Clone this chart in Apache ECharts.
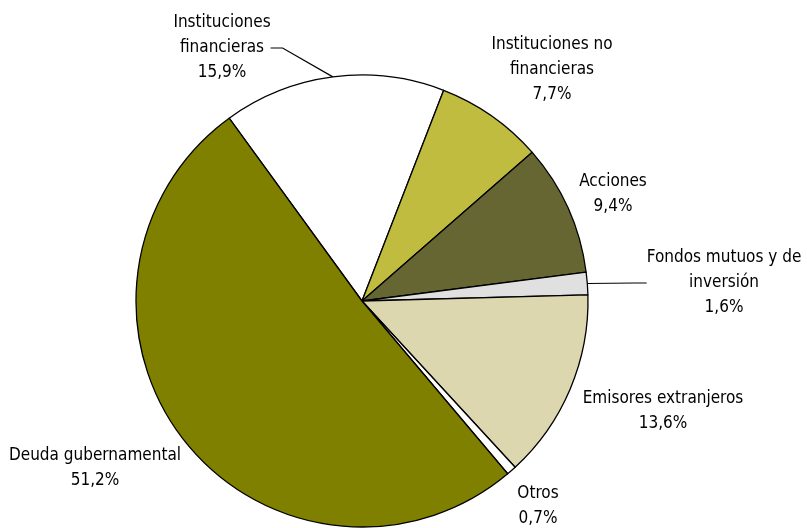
<!DOCTYPE html>
<html><head><meta charset="utf-8">
<script src="https://cdn.jsdelivr.net/npm/echarts@6/dist/echarts.min.js"></script>
<style>html,body{margin:0;padding:0;background:#fff}#c{width:807px;height:528px}</style>
</head><body><div id="c"></div>
<script>
const categories = ['Instituciones\nfinancieras', 'Instituciones no\nfinancieras', 'Acciones', 'Fondos mutuos y de\ninversión', 'Emisores extranjeros', 'Otros', 'Deuda gubernamental'];
const values = [15.9, 7.7, 9.4, 1.6, 13.6, 0.7, 51.2];
const colors = ['#ffffff', '#bfbc40', '#666633', '#e0e0e0', '#dcd7ae', '#ffffff', '#808000'];
// label centre positions (px) and whether a leader line is drawn
const labelPos = [[222, 48], [552, 70], [613, 194], [724, 283], [663, 411], [538, 506], [95, 468]];
const showLine = [true, false, false, true, false, false, false];

const chart = echarts.init(document.getElementById('c'));
chart.setOption({
  animation: false,
  series: [{
    type: 'pie',
    center: [362, 301],
    radius: 226,
    startAngle: 126,
    clockwise: true,
    data: categories.map((n, i) => ({
      name: n, value: values[i],
      itemStyle: { color: colors[i] },
      labelLine: { show: showLine[i], length: 12, length2: 12 }
    })),
    itemStyle: { borderColor: '#000', borderWidth: 1.3 },
    label: {
      formatter: p => p.name + '\n' + String(p.value).replace('.', ',') + '%',
      fontFamily: '"DejaVu Sans Condensed", sans-serif',
      fontSize: 17, lineHeight: 25, color: '#000', align: 'center',
      overflow: 'none'
    },
    labelLine: { lineStyle: { color: '#000', width: 1.2 } },
    labelLayout: p => ({
      x: labelPos[p.dataIndex][0], y: labelPos[p.dataIndex][1],
      align: 'center', verticalAlign: 'middle'
    })
  }]
});
</script></body></html>
